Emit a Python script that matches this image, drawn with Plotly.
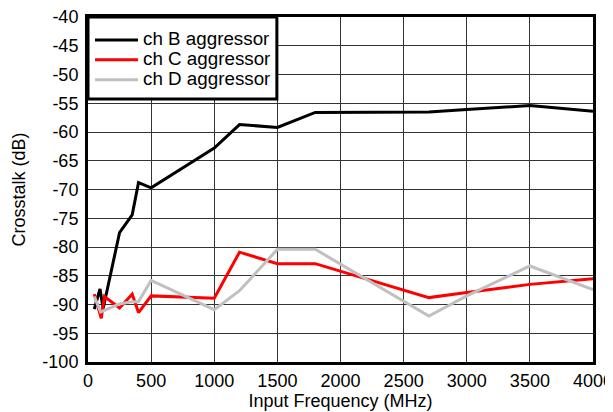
import plotly.graph_objects as go

freq_b = [50, 95, 120, 250, 350, 400, 500, 1000, 1200, 1500, 1800, 2700, 3000, 3500, 4000]
ch_b = [-90.8, -87.3, -90.7, -77.5, -74.4, -68.8, -69.7, -62.8, -58.7, -59.2, -56.6, -56.5, -56.1, -55.4, -56.4]

freq_c = [50, 105, 130, 250, 350, 400, 500, 1000, 1200, 1500, 1800, 2700, 3000, 3500, 4000]
ch_c = [-88.2, -92.4, -88.6, -90.6, -88.2, -91.4, -88.5, -88.9, -80.9, -82.9, -82.9, -88.8, -87.9, -86.5, -85.5]

freq_d = [50, 100, 250, 350, 400, 500, 1000, 1200, 1500, 1800, 2700, 3000, 3500, 4000]
ch_d = [-88.6, -91.3, -89.9, -89.5, -89.5, -85.8, -90.9, -87.6, -80.4, -80.4, -92.0, -88.5, -83.3, -87.4]

series_names = ["ch B aggressor", "ch C aggressor", "ch D aggressor"]
x_ticks = [0, 500, 1000, 1500, 2000, 2500, 3000, 3500, 4000]
y_ticks = [-100, -95, -90, -85, -80, -75, -70, -65, -60, -55, -50, -45, -40]

FONT = "Liberation Sans, Arial, Helvetica, sans-serif"


def legend_label(s):
    return '<span style="font-size:18.8px">' + s + '</span>'


fig = go.Figure()
fig.add_trace(go.Scatter(x=freq_b, y=ch_b, mode="lines", name=legend_label(series_names[0]),
                         line=dict(color="black", width=3)))
fig.add_trace(go.Scatter(x=freq_c, y=ch_c, mode="lines", name=legend_label(series_names[1]),
                         line=dict(color="#ff0000", width=3)))
fig.add_trace(go.Scatter(x=freq_d, y=ch_d, mode="lines", name=legend_label(series_names[2]),
                         line=dict(color="#c0c0c0", width=3)))

axis_common = dict(
    showline=True, linecolor="black", linewidth=3, mirror=True,
    showgrid=True, gridcolor="#333333", gridwidth=1,
    zeroline=False, ticks="", automargin=False, ticklabeloverflow="allow",
    tickfont=dict(size=18, color="black", family=FONT),
)

fig.update_xaxes(range=[0, 4000], tickvals=x_ticks, ticktext=[str(v) for v in x_ticks],
                 title=dict(text="Input Frequency (MHz)", font=dict(size=18, color="black", family=FONT), standoff=0),
                 **axis_common)
fig.update_yaxes(range=[-100, -40], tickvals=y_ticks, ticktext=[str(v) for v in y_ticks],
                 ticklabelstandoff=3,
                 title=dict(text="Crosstalk (dB)", font=dict(size=18, color="black", family=FONT), standoff=13),
                 **axis_common)

# legend frame (white box with a thick black border)
fig.add_shape(type="rect", xref="paper", yref="paper", x0=0, x1=0.374, y0=0.762, y1=1,
              line=dict(color="black", width=3), fillcolor="white", layer="above")

fig.update_layout(
    width=605, height=404,
    margin=dict(l=80, r=20, t=9, b=50),
    paper_bgcolor="white", plot_bgcolor="white",
    font=dict(family=FONT, color="black"),
    showlegend=True,
    legend=dict(x=0.004, y=0.9768, xanchor="left", yanchor="top",
                bgcolor="rgba(0,0,0,0)", borderwidth=0,
                font=dict(size=13, color="black", family=FONT),
                itemwidth=43, tracegroupgap=0),
)

fig.write_html("out.html")
